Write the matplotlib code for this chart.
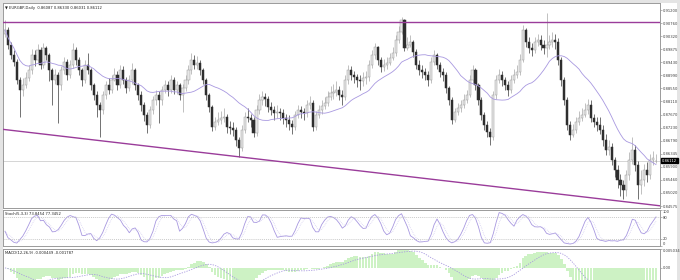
import matplotlib
matplotlib.use('Agg')
import matplotlib.pyplot as plt
import matplotlib.transforms as mtransforms
from matplotlib.patches import Rectangle
import numpy as np
import pandas as pd

# EURGBP daily bars, prices in pips (x 1e-4)
closes = [
    9053, 9002, 8968, 8944, 8884, 8850, 8867, 8890, 8917, 8968, 8951, 8985, 8934, 8992, 8968, 8917,
    8884, 8900, 8867, 8917, 8944, 8900, 8934, 8985, 8951, 8917, 8884, 8934, 8917, 8867, 8833, 8799,
    8782, 8833, 8867, 8850, 8884, 8900, 8867, 8917, 8884, 8857, 8884, 8917, 8867, 8833, 8799, 8765,
    8731, 8782, 8816, 8833, 8816, 8850, 8867, 8850, 8884, 8850, 8867, 8833, 8857, 8884, 8917, 8951,
    8934,
    8941, 8917, 8884, 8833, 8792, 8725, 8742, 8748, 8755, 8759, 8725, 8721, 8715, 8681, 8654, 8715,
    8759, 8755, 8748, 8704, 8782, 8816, 8826, 8820, 8792, 8782, 8772, 8775, 8772, 8755, 8748, 8735,
    8725, 8765, 8782, 8775, 8772, 8799, 8806, 8725, 8765, 8782, 8796, 8806, 8826, 8840, 8843, 8850,
    8833, 8826, 8884, 8917, 8900, 8894, 8884, 8880, 8890, 8894, 8934, 8968, 8995, 8951, 8928, 8934,
    8941, 8958, 8975, 9019, 9046,
    9086, 8992, 9002, 9012, 8978, 8934, 8917, 8911, 8900, 8884, 8944, 8968, 8934, 8911, 8900, 8857,
    8816, 8748, 8775, 8789, 8799, 8816, 8833, 8884, 8917, 8867, 8816, 8765, 8731, 8708, 8691, 8833,
    8884, 8900, 8884, 8867, 8850, 8884, 8900, 8911, 8951, 9053, 9012, 8992, 8985, 9012, 9019, 9002,
    8992, 9002, 9012, 9019, 9012, 8951, 8884, 8816, 8731, 8698, 8715, 8742, 8755, 8765, 8782, 8799,
    8755, 8742, 8731,
    8715, 8681, 8647, 8657, 8613, 8579, 8546, 8529, 8512, 8562, 8613, 8647, 8596, 8529, 8546, 8579,
    8562, 8613, 8620, 8611.2,
]
highs = [
    9086, 9062, 9012, 8985, 8955, 8895, 8890, 8910, 8935, 8990, 8985, 9005, 8995, 9010, 9000, 8975,
    8925, 8920, 8910, 8930, 8960, 8955, 8950, 9010, 8995, 8960, 8925, 8950, 8975, 8925, 8875, 8845,
    8810, 8845, 8880, 8890, 8900, 8925, 8915, 8935, 8930, 8895, 8900, 8940, 8925, 8875, 8845, 8810,
    8775, 8795, 8830, 8850, 8845, 8865, 8885, 8880, 8900, 8895, 8880, 8875, 8870, 8900, 8935, 8975,
    8968,
    8965, 8950, 8925, 8890, 8840, 8800, 8760, 8775, 8780, 8790, 8770, 8745, 8740, 8725, 8690, 8730,
    8775, 8790, 8770, 8760, 8800, 8835, 8845, 8840, 8830, 8810, 8795, 8800, 8790, 8785, 8770, 8765,
    8750, 8780, 8800, 8795, 8790, 8815, 8830, 8815, 8780, 8800, 8815, 8825, 8845, 8865, 8870, 8880,
    8865, 8850, 8900, 8935, 8930, 8915, 8905, 8900, 8910, 8915, 8950, 8985, 9010, 9000, 8960, 8955,
    8960, 8975, 8995, 9035, 9065,
    9095, 9090, 9030, 9035, 9020, 8990, 8950, 8935, 8925, 8915, 8960, 8985, 8975, 8945, 8925, 8910,
    8865, 8825, 8790, 8805, 8815, 8835, 8850, 8900, 8935, 8925, 8875, 8825, 8775, 8745, 8720, 8845,
    8900, 8920, 8915, 8895, 8880, 8900, 8920, 8935, 8970, 9070, 9060, 9030, 9010, 9030, 9040, 9035,
    9020, 9110, 9035, 9045, 9040, 9025, 8960, 8895, 8825, 8745, 8735, 8760, 8780, 8790, 8805, 8820,
    8815, 8770, 8760,
    8760, 8730, 8700, 8680, 8670, 8625, 8595, 8565, 8545, 8580, 8640, 8690, 8665, 8610, 8580, 8600,
    8605, 8635, 8645, 8633,
]
lows = [
    9030, 8990, 8955, 8930, 8870, 8760, 8830, 8855, 8880, 8905, 8930, 8940, 8920, 8925, 8950, 8880,
    8800, 8870, 8738, 8850, 8905, 8885, 8890, 8925, 8935, 8900, 8865, 8875, 8905, 8850, 8815, 8760,
    8691, 8770, 8820, 8835, 8840, 8880, 8850, 8855, 8870, 8840, 8845, 8870, 8850, 8815, 8780, 8745,
    8704, 8720, 8770, 8800, 8738, 8800, 8840, 8830, 8840, 8835, 8835, 8815, 8775, 8845, 8870, 8905,
    8920,
    8920, 8900, 8870, 8815, 8775, 8710, 8715, 8730, 8735, 8740, 8705, 8700, 8695, 8660, 8623, 8645,
    8705, 8740, 8725, 8690, 8695, 8770, 8800, 8795, 8775, 8765, 8750, 8755, 8750, 8735, 8725, 8715,
    8700, 8715, 8755, 8755, 8750, 8760, 8785, 8710, 8715, 8755, 8770, 8785, 8795, 8815, 8820, 8830,
    8815, 8800, 8815, 8870, 8885, 8875, 8860, 8850, 8865, 8870, 8880, 8925, 8955, 8935, 8910, 8915,
    8920, 8935, 8950, 8965, 9010,
    9040, 8980, 8985, 8995, 8960, 8920, 8900, 8890, 8885, 8865, 8875, 8935, 8920, 8895, 8880, 8840,
    8800, 8735, 8740, 8765, 8775, 8790, 8805, 8825, 8870, 8850, 8800, 8750, 8715, 8690, 8664, 8680,
    8820, 8875, 8865, 8850, 8830, 8840, 8875, 8890, 8900, 8945, 8995, 8975, 8965, 8975, 9000, 8985,
    8970, 8960, 8990, 8995, 8990, 8935, 8865, 8800, 8715, 8680, 8690, 8705, 8730, 8745, 8760, 8770,
    8740, 8725, 8710,
    8700, 8660, 8630, 8630, 8595, 8555, 8520, 8490, 8480, 8490, 8545, 8600, 8575, 8480, 8500, 8525,
    8540, 8550, 8595, 8603,
]
first_open = 9040
last_open = 8608.7

resistance = 0.9080
support_from = 0.8716   # at first bar
support_to = 0.8460     # at last bar

price_ticks = [0.91200, 0.90760, 0.90320, 0.89875, 0.89430, 0.88990, 0.88550, 0.88110,
               0.87670, 0.87230, 0.86790, 0.86345, 0.85900, 0.85460, 0.85020, 0.84575]
macd_ticks = [0.005034, 0.0]
stoch_ticks = [100, 80, 20, 0]

title_text = '\u25bc EURGBP,Daily  0.86087 0.86330 0.86031 0.86112'
stoch_text = 'Stoch(5,3,3) 73.8454 77.3452'
macd_text = 'MACD(12,26,9) -0.000449 -0.001787'

FS = 3.0
plt.rcParams['font.family'] = ['DejaVu Sans']
plt.rcParams['font.stretch'] = 'condensed'

# ---- build frame
c = np.array(closes) / 10000.0
h = np.array(highs) / 10000.0
l = np.array(lows) / 10000.0
o = np.concatenate([[first_open], closes[:-1]]) / 10000.0
o[-1] = last_open / 10000.0
n = len(c)
idx = np.arange(n)
df = pd.DataFrame({'o': o, 'h': h, 'l': l, 'c': c})

ma = df['c'].rolling(20, min_periods=1).mean()

# stochastic 5,3,3
ll = df['l'].rolling(5, min_periods=1).min()
hh = df['h'].rolling(5, min_periods=1).max()
num = (df['c'] - ll).rolling(3, min_periods=1).sum()
den = (hh - ll).rolling(3, min_periods=1).sum()
stoch_main = 100 * num / den
stoch_sig = stoch_main.rolling(3, min_periods=1).mean()

# macd 12,26,9
ema12 = df['c'].ewm(span=12, adjust=False).mean()
ema26 = df['c'].ewm(span=26, adjust=False).mean()
macd = ema12 - ema26
macd_sig = macd.rolling(9, min_periods=1).mean()

W, H = 680, 280
fig = plt.figure(figsize=(W / 100, H / 100), dpi=100, facecolor='#e4e4e4')
fig.add_artist(Rectangle((3 / W, 0), 674 / W, 277 / H, transform=fig.transFigure,
                         facecolor='white', edgecolor='none', zorder=0))

def px_axes(x0, y0, x1, y1):
    return fig.add_axes([x0 / W, (H - y1) / H, (x1 - x0) / W, (y1 - y0) / H])

ax = px_axes(3, 3, 660, 208)
ax_st = px_axes(3, 210, 660, 246)
ax_m = px_axes(3, 249, 660, 292)

px_per_bar = (656 - 5) / (n - 1)
xlo = -(5 - 3) / px_per_bar
xhi = (n - 1) + (660 - 656) / px_per_bar

for a in (ax, ax_st, ax_m):
    a.set_xlim(xlo, xhi)
    a.set_xticks([])
    a.yaxis.tick_right()
    a.tick_params(axis='y', length=1.5, width=0.4, color='#808080', labelsize=FS,
                  labelcolor='#404040', pad=0.6)
    for s in a.spines.values():
        s.set_color('#9a9a9a')
        s.set_linewidth(0.7)
    a.set_facecolor('white')

# ---- main chart
up = df['c'] >= df['o']
wick_col = np.where(up, '#a6a6a6', '#3a3a3a')
ax.vlines(idx, df['l'], df['h'], colors=wick_col, linewidth=0.5, zorder=2)
body_lo = np.minimum(df['o'], df['c'])
body_h = np.maximum(np.abs(df['c'] - df['o']), 0.00004)
ax.bar(idx[up], body_h[up], bottom=body_lo[up], width=0.72, color='#e6e6e6',
       edgecolor='#9c9c9c', linewidth=0.35, zorder=3)
ax.bar(idx[~up], body_h[~up], bottom=body_lo[~up], width=0.72, color='#2e2e2e',
       edgecolor='#2e2e2e', linewidth=0.35, zorder=3)
ax.plot(idx, ma, color='#a898e0', linewidth=0.6, zorder=4)

ax.axhline(c[-1], color='#cfcfcf', linewidth=0.6, zorder=1)
ax.plot([xlo, xhi], [resistance, resistance], color='#9a3c9a', linewidth=1.0, zorder=5)
slope = (support_to - support_from) / (n - 1)
ax.plot([xlo, xhi], [support_from + slope * xlo, support_from + slope * xhi],
        color='#9a3c9a', linewidth=1.0, zorder=5)

ax.set_ylim(0.84510, 0.91439)
ax.set_yticks(price_ticks)
ax.set_yticklabels(['%.5f' % t for t in price_ticks])
trans = mtransforms.blended_transform_factory(ax.transAxes, ax.transData)
ax.text(1.003, c[-1], '%.5f' % c[-1], transform=trans, fontsize=FS, color='white',
        va='center', ha='left',
        bbox=dict(boxstyle='square,pad=0.2', facecolor='black', edgecolor='black'))
ax.text(0.003, 0.985, title_text, transform=ax.transAxes, fontsize=FS, color='#202020',
        va='top', ha='left')

# ---- stochastic
ax_st.plot(idx, stoch_main, color='#a898e0', linewidth=0.6)
ax_st.plot(idx, stoch_sig, color='#c8c0ec', linewidth=0.5, linestyle=':')
for lvl in (80, 20):
    ax_st.axhline(lvl, color='#b8b8b8', linewidth=0.5, linestyle=(0, (1.5, 1.5)))
ax_st.set_ylim(0, 100)
ax_st.set_yticks(stoch_ticks)
ax_st.set_yticklabels([str(t) for t in stoch_ticks])
labs = ax_st.get_yticklabels()
labs[0].set_va('top')
labs[-1].set_va('bottom')
ax_st.text(0.003, 0.94, stoch_text, transform=ax_st.transAxes,
           fontsize=FS, color='#202020', va='top', ha='left')

# ---- macd
ax_m.bar(idx, macd, width=0.9, color='#cdf2c4', edgecolor='none')
ax_m.plot(idx, macd_sig, color='#a898e0', linewidth=0.6, linestyle=(0, (1.5, 1.5)))
ax_m.set_ylim(-0.006433, 0.005034)
ax_m.set_yticks(macd_ticks)
ax_m.set_yticklabels(['0.005034', '0.00'])
ax_m.get_yticklabels()[0].set_va('top')
ax_m.text(0.003, 0.955, macd_text, transform=ax_m.transAxes,
          fontsize=FS, color='#202020', va='top', ha='left')

fig.savefig('out.png', dpi=100, facecolor=fig.get_facecolor())
